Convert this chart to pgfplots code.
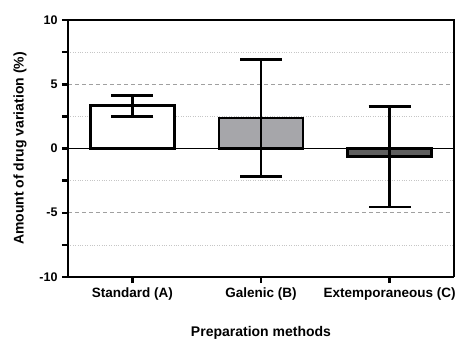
\documentclass[border=0pt]{standalone}
\usepackage{fontspec}
\setmainfont{Liberation Sans}
\usepackage{pgfplots}
\pgfplotsset{compat=1.18}
\definecolor{barB}{HTML}{A6A6AA}
\definecolor{barC}{HTML}{5E5E5E}
\definecolor{gridc}{HTML}{A0A0A0}
\begin{document}
\begin{tikzpicture}
\path[use as bounding box] (-68pt,-61pt) rectangle (393pt,277pt);
\begin{axis}[
  at={(0,0)}, anchor=south west,
  scale only axis, width=386pt, height=257pt,
  xmin=-0.5, xmax=2.5, ymin=-10, ymax=10,
  axis x line*=bottom, axis y line*=left,
  axis line style={line width=2.8pt},
  xtick={0,1,2},
  xticklabels={Standard (A),Galenic (B),Extemporaneous (C)},
  ytick={-10,-5,0,5,10},
  minor ytick={-7.5,-2.5,2.5,7.5},
  tick align=outside,
  major tick length=6pt, minor tick length=6pt,
  every tick/.style={black, line width=2.5pt},
  ymajorgrids, yminorgrids,
  major grid style={gridc, dashed, line width=0.9pt, dash pattern=on 4pt off 3pt},
  minor grid style={gridc!60, dotted, line width=0.7pt},
  /pgf/number format/assume math mode=true,
  yticklabel style={font=\fontsize{12.5}{14}\selectfont\bfseries, xshift=-1pt},
  xticklabel style={font=\fontsize{13.5}{15}\selectfont\bfseries, yshift=-1pt},
  ylabel={Amount of drug variation (\%)},
  xlabel={Preparation methods},
  every axis y label/.style={at={(axis description cs:0,0.5)}, xshift=-48pt, rotate=90, anchor=center, font=\fontsize{14}{16}\selectfont\bfseries},
  every axis x label/.style={at={(axis description cs:0.5,0)}, anchor=base, yshift=-59pt, font=\fontsize{14}{16}\selectfont\bfseries},
  clip=false,
]
\draw[line width=1.5pt] (axis cs:-0.5,0) -- (axis cs:2.5,0);
\draw[line width=1.5pt] (axis cs:-0.5,10) -- (axis cs:2.5,10) -- (axis cs:2.5,-10);
\addplot[ybar, bar width=84pt, fill=white, draw=black, line width=2.8pt,
  error bars/.cd, y dir=both, y explicit,
  error bar style={line width=2.8pt, black},
  error mark options={rotate=90, mark size=21pt, line width=2.8pt, black}]
  coordinates {(0,3.32) +- (0,0.82)};
\addplot[ybar, bar width=84pt, fill=barB, draw=black, line width=2.8pt,
  error bars/.cd, y dir=both, y explicit,
  error bar style={line width=2.8pt, black},
  error mark options={rotate=90, mark size=21pt, line width=2.8pt, black}]
  coordinates {(1,2.37) +- (0,4.55)};
\addplot[ybar, bar width=84pt, fill=barC, draw=black, line width=2.8pt,
  error bars/.cd, y dir=both, y explicit,
  error bar style={line width=2.8pt, black},
  error mark options={rotate=90, mark size=21pt, line width=2.8pt, black}]
  coordinates {(2,-0.65) +- (0,3.9)};
\end{axis}
\end{tikzpicture}
\end{document}
